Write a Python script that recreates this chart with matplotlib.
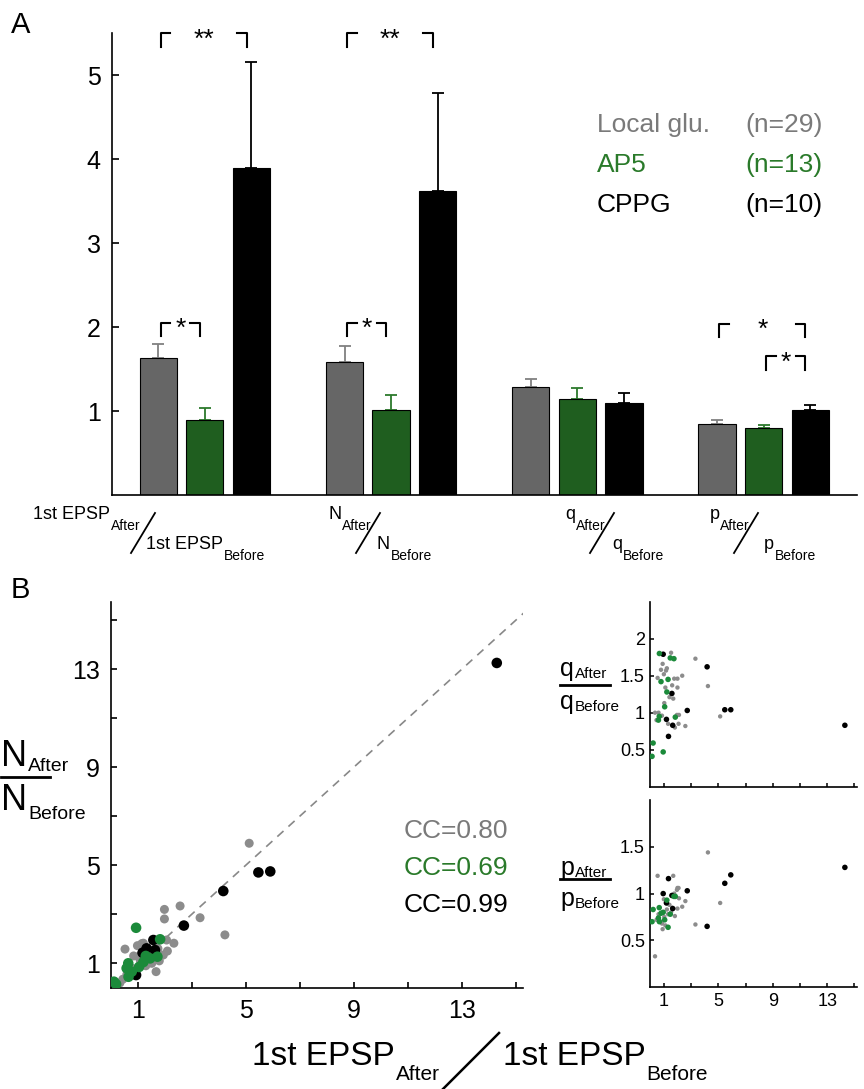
import numpy as np
import matplotlib
matplotlib.use('Agg')
import matplotlib.pyplot as plt
from matplotlib.lines import Line2D

plt.rcParams['font.family'] = ['Liberation Sans', 'DejaVu Sans']

W, H = 864, 1089

# ---- panel A: ratio after/before, mean and upper error ----
groups = ['Local glu.', 'AP5', 'CPPG']
counts = [29, 13, 10]
mean_glu = [1.63, 1.59, 1.29, 0.85]
sem_glu = [0.17, 0.18, 0.09, 0.04]
mean_ap5 = [0.89, 1.01, 1.14, 0.80]
sem_ap5 = [0.15, 0.18, 0.13, 0.03]
mean_cppg = [3.90, 3.62, 1.10, 1.01]
sem_cppg = [1.26, 1.17, 0.11, 0.06]
# (measure, left bar, right bar, level, stars)
sig = [(0, 0, 2, 5.5, '**'), (0, 0, 1, 2.05, '*'),
       (1, 0, 2, 5.5, '**'), (1, 0, 1, 2.05, '*'),
       (3, 0, 2, 2.04, '*'), (3, 1, 2, 1.65, '*')]
measures = ['1st EPSP', 'N', 'q', 'p']

# ---- panel B: per cell ratios ----
glu_epsp = [5.13, 2.57, 1.99, 1.99, 3.31, 4.23, 0.53, 0.99, 1.21, 2.34, 1.95, 1.68, 1.02, 1.52, 0.34,
            0.78, 2.07, 1.40, 1.10, 0.90, 1.30, 1.75, 0.45, 1.60, 2.10, 0.85, 1.15, 1.80, 0.60]
glu_n = [5.90, 3.34, 3.20, 2.81, 2.86, 2.16, 1.58, 1.72, 1.82, 1.82, 1.34, 0.66, 1.27, 1.00, 0.20,
         0.80, 1.95, 1.50, 1.10, 0.60, 0.90, 1.60, 0.35, 1.45, 1.50, 1.30, 1.80, 1.10, 0.55]
glu_q = [0.95, 0.82, 1.34, 1.46, 1.73, 1.36, 1.47, 1.52, 1.60, 1.50, 0.97, 1.19, 1.13, 1.81, 1.00,
         1.58, 0.85, 1.21, 1.34, 1.66, 0.85, 1.46, 0.90, 1.37, 0.97, 0.96, 1.57, 0.80, 1.00]
glu_p = [0.90, 0.92, 1.06, 0.84, 0.67, 1.44, 1.19, 0.94, 0.83, 0.86, 1.04, 1.19, 0.75, 0.80, 0.33,
         0.70, 1.06, 0.88, 0.66, 0.62, 0.78, 1.00, 0.72, 0.85, 0.95, 0.68, 0.90, 0.76, 0.78]

ap5_epsp = [0.12, 0.20, 0.59, 0.65, 0.66, 0.78, 0.94, 1.05, 1.21, 1.30, 1.46, 1.73, 1.83]
ap5_n = [0.25, 0.15, 0.80, 1.00, 0.45, 0.66, 2.45, 0.85, 1.05, 1.30, 1.20, 1.27, 1.98]
ap5_q = [0.41, 0.59, 0.90, 0.95, 1.80, 1.42, 0.47, 1.08, 1.28, 1.45, 1.74, 1.73, 0.94]
ap5_p = [0.70, 0.83, 0.74, 0.85, 0.70, 0.79, 0.80, 0.72, 0.93, 0.64, 0.78, 0.97, 0.97]

cppg_epsp = [14.30, 5.91, 5.47, 4.17, 2.71, 0.94, 1.33, 1.58, 1.64, 1.18]
cppg_n = [13.26, 4.75, 4.71, 3.95, 2.54, 0.52, 1.61, 1.95, 1.54, 1.43]
cppg_q = [0.83, 1.04, 1.04, 1.62, 1.03, 1.79, 0.68, 1.26, 0.83, 0.91]
cppg_p = [1.28, 1.20, 1.11, 0.65, 1.03, 1.00, 1.16, 0.98, 0.84, 0.90]

cc_text = ['CC=0.80', 'CC=0.69', 'CC=0.99']

bar_col = ['#666666', '#1f5e1f', '#000000']
err_col = ['#808080', '#2c7a2c', '#000000']
txt_col = ['#7a7a7a', '#2a7a2a', '#000000']
dot_col = ['#8c8c8c', '#1b8a3a', '#000000']

fig = plt.figure(figsize=(W / 100, H / 100), dpi=100)
renderer = fig.canvas.get_renderer()


def ax_px(l, t, r, b):
    return fig.add_axes([l / W, 1 - b / H, (r - l) / W, (b - t) / H])


def ftext(x, y, s, **kw):
    return fig.text(x / W, 1 - y / H, s, **kw)


def fline(x0, y0, x1, y1, **kw):
    fig.add_artist(Line2D([x0 / W, x1 / W], [1 - y0 / H, 1 - y1 / H],
                          transform=fig.transFigure, **kw))


def sub_text(x, y, main, sub, size, subsize, drop, align='left'):
    # main text with a lowered subscript, placed in pixels from top-left
    if align == 'left':
        t = ftext(x, y, main, fontsize=size, ha='left', va='baseline')
        w = t.get_window_extent(renderer).width
        ftext(x + w + 1, y + drop, sub, fontsize=subsize, ha='left', va='baseline')
    else:
        t = ftext(x, y + drop, sub, fontsize=subsize, ha='right', va='baseline')
        w = t.get_window_extent(renderer).width
        ftext(x - w - 1, y, main, fontsize=size, ha='right', va='baseline')


def clean(ax):
    ax.spines['top'].set_visible(False)
    ax.spines['right'].set_visible(False)
    for s in ['left', 'bottom']:
        ax.spines[s].set_linewidth(1.2)


# ================= panel A =================
axA = ax_px(111.7, 33.3, 856.7, 495)
clean(axA)
centers = np.arange(4) * 4 + 1
means = [mean_glu, mean_ap5, mean_cppg]
sems = [sem_glu, sem_ap5, sem_cppg]
for i in range(3):
    xs = centers + (i - 1)
    axA.bar(xs, means[i], width=0.8, color=bar_col[i], edgecolor='black', linewidth=0.8, zorder=2)
    axA.errorbar(xs, means[i], yerr=[np.zeros(4), sems[i]], fmt='none', ecolor=err_col[i],
                 elinewidth=1.3, capsize=4, capthick=1.3, zorder=1)
axA.set_xlim(-1, 15)
axA.set_ylim(0, 5.5)
axA.set_xticks([])
axA.set_yticks([1, 2, 3, 4, 5])
axA.tick_params(axis='y', direction='in', length=5, width=1.2, labelsize=18, pad=8)

for m, i, j, lev, stars in sig:
    x0 = centers[m] + (i - 1) + 0.05
    x1 = centers[m] + (j - 1) - 0.1
    leg = 0.16
    st = 0.21
    axA.plot([x0, x0, x0 + st], [lev - leg, lev, lev], color='black', lw=1.5, clip_on=False)
    axA.plot([x1 - st, x1, x1], [lev, lev, lev - leg], color='black', lw=1.5, clip_on=False)
    axA.text((x0 + x1) / 2, lev - 0.16, stars, ha='center', va='baseline', fontsize=19)

# legend text
for k in range(3):
    ftext(597, 131.7 + 40 * k, groups[k], color=txt_col[k], fontsize=19, va='baseline')
    ftext(745, 131.7 + 40 * k, '(n=%d)' % counts[k], color=txt_col[k], fontsize=19, va='baseline')

# x labels of panel A: numerator right edge, slash bottom x, denominator left edge
num_right = [141, 372, 606, 750]
slash_x = [131, 356, 590, 734]
den_left = [146, 377, 612, 764]
for k in range(4):
    sub_text(num_right[k], 519, measures[k], 'After', 13, 10, 11, align='right')
    fline(slash_x[k], 553, slash_x[k] + 24, 513, color='black', lw=1.3)
    sub_text(den_left[k], 549, measures[k], 'Before', 13, 10, 11, align='left')

ftext(11, 33, 'A', fontsize=21, va='baseline')
ftext(11, 598, 'B', fontsize=21, va='baseline')

# ================= panel B main =================
axB = ax_px(110.7, 601.7, 522.7, 987.8)
clean(axB)
axB.plot([0, 15.3], [0, 15.3], ls=(0, (5, 4)), color='#888888', lw=1.2, zorder=1)
axB.scatter(glu_epsp, glu_n, s=42, color=dot_col[0], edgecolors='none', zorder=2)
axB.scatter(cppg_epsp, cppg_n, s=58, color=dot_col[2], edgecolors='none', zorder=3)
axB.scatter(ap5_epsp, ap5_n, s=58, color=dot_col[1], edgecolors='none', zorder=4)
axB.set_xlim(0, 15.26)
axB.set_ylim(0, 15.76)
axB.set_xticks(np.arange(1, 16, 2))
axB.set_xticklabels(['1', '', '5', '', '9', '', '13', ''])
axB.set_yticks(np.arange(1, 16, 2))
axB.set_yticklabels(['1', '', '5', '', '9', '', '13', ''])
axB.tick_params(direction='in', length=4, width=1.2, labelsize=18, pad=8)
for k in range(3):
    ftext(508, 837.7 + 37 * k, cc_text[k], color=txt_col[k], fontsize=19, ha='right', va='baseline')

# x label
sub_text(440, 1065, '1st EPSP', 'After', 24, 15, 15, align='right')
fline(443, 1089, 499, 1033, color='black', lw=1.8)
sub_text(503, 1065, '1st EPSP', 'Before', 24, 15, 15, align='left')
# y label
sub_text(1, 766, 'N', 'After', 26, 14, 5, align='left')
fline(1, 777, 50, 777, color='black', lw=2)
sub_text(1, 810, 'N', 'Before', 26, 14, 9, align='left')

# ================= small panels =================
axQ = ax_px(650.4, 601.7, 856.7, 786.7)
axP = ax_px(650.4, 800, 856.7, 987.2)
for ax, ylim, yt in [(axQ, 2.5, [0.5, 1, 1.5, 2]), (axP, 2.0, [0.5, 1, 1.5])]:
    clean(ax)
    ax.set_xlim(0, 15.17)
    ax.set_ylim(0, ylim)
    ax.set_yticks(yt)
    ax.set_yticklabels([('%g' % v) for v in yt])
    ax.set_xticks(np.arange(1, 16, 2))
    ax.tick_params(direction='in', length=3, width=1.1, labelsize=13, pad=4)
axQ.set_xticklabels([])
axP.set_xticklabels(['1', '', '5', '', '9', '', '13', ''])
axQ.scatter(glu_epsp, glu_q, s=10, color=dot_col[0], edgecolors='none', zorder=2)
axQ.scatter(cppg_epsp, cppg_q, s=16, color=dot_col[2], edgecolors='none', zorder=3)
axQ.scatter(ap5_epsp, ap5_q, s=16, color=dot_col[1], edgecolors='none', zorder=4)
axP.scatter(glu_epsp, glu_p, s=10, color=dot_col[0], edgecolors='none', zorder=2)
axP.scatter(cppg_epsp, cppg_p, s=16, color=dot_col[2], edgecolors='none', zorder=3)
axP.scatter(ap5_epsp, ap5_p, s=16, color=dot_col[1], edgecolors='none', zorder=4)

for sym, ytop, ybar, ybot in [('q', 676, 685, 709), ('p', 875, 878.5, 906)]:
    sub_text(560, ytop, sym, 'After', 18, 11, 2, align='left')
    fline(560, ybar, 610, ybar, color='black', lw=2)
    sub_text(560, ybot, sym, 'Before', 18, 11, 2, align='left')

fig.savefig('out.png', dpi=100)
